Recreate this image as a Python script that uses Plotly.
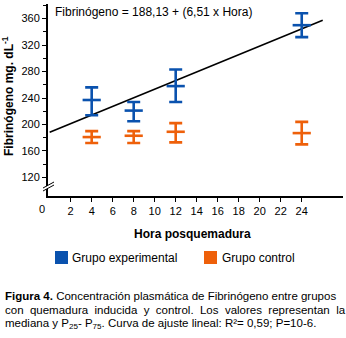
import plotly.graph_objects as go

hours = [4, 8, 12, 24]
exp_median = [237, 221, 258, 350]
exp_p25 = [214, 205, 234, 332]
exp_p75 = [256, 234, 283, 368]
ctl_median = [181, 183, 189, 187]
ctl_p25 = [172, 172, 173, 170]
ctl_p75 = [190, 190, 202, 204]
fit_intercept = 188.13
fit_slope = 6.51
fit_hours = [0, 26]
x_ticks = list(range(2, 26, 2))
y_ticks = [120, 160, 200, 240, 280, 320, 360]

BLUE = "#0A52AE"
ORANGE = "#EE600A"
FONT = "Liberation Sans, Arial, sans-serif"
NB = "\u00a0"

W, H = 346, 338
L, R, T, B = 48, 3, 4, 142
PW, PH = W - L - R, H - T - B


def px_x(px):
    return (px - L) / PW


def px_y(py):
    return (H - B - py) / PH


fig = go.Figure()

fig.add_trace(go.Scatter(
    x=fit_hours, y=[fit_intercept + fit_slope * h for h in fit_hours],
    mode="lines", line=dict(color="black", width=1.6), showlegend=False, hoverinfo="skip"))


def add_group(med, lo, hi, color):
    fig.add_trace(go.Scatter(
        x=hours, y=med, mode="markers",
        marker=dict(symbol="line-ew", size=13, line=dict(color=color, width=2.6)),
        error_y=dict(type="data", symmetric=False,
                     array=[h - m for h, m in zip(hi, med)],
                     arrayminus=[m - l for m, l in zip(med, lo)],
                     color=color, thickness=2.6, width=6.5),
        showlegend=False))


add_group(exp_median, exp_p25, exp_p75, BLUE)
add_group(ctl_median, ctl_p25, ctl_p75, ORANGE)

shapes = []
# axis break marks
shapes.append(dict(type="path", xref="paper", yref="paper",
                   path=f"M {px_x(43)} {px_y(191)} L {px_x(54)} {px_y(185)} L {px_x(54)} {px_y(182)} L {px_x(43)} {px_y(188)} Z",
                   fillcolor="white", line=dict(width=0), layer="above"))
for off in (0, 3):
    shapes.append(dict(type="line", xref="paper", yref="paper",
                       x0=px_x(43), y0=px_y(191 - off), x1=px_x(54), y1=px_y(185 - off),
                       line=dict(color="black", width=1), layer="above"))
# legend squares
shapes.append(dict(type="rect", xref="paper", yref="paper",
                   x0=px_x(55), x1=px_x(68), y0=px_y(264), y1=px_y(251),
                   fillcolor=BLUE, line=dict(width=0)))
shapes.append(dict(type="rect", xref="paper", yref="paper",
                   x0=px_x(204), x1=px_x(217), y0=px_y(264), y1=px_y(251),
                   fillcolor=ORANGE, line=dict(width=0)))


def text(t, px, py, size=12, xanchor="left", angle=0):
    return dict(text=t, xref="paper", yref="paper", x=px_x(px), y=px_y(py),
                xanchor=xanchor, yanchor="middle", showarrow=False, textangle=angle,
                font=dict(size=size, color="black", family=FONT))


ann = [
    text("Fibrinógeno = 188,13 + (6,51 x Hora)", 53, 12),
    text("Grupo experimental", 70, 257.5),
    text("Grupo control", 220, 257.5),
    text("0", 42, 209, size=11, xanchor="center"),
    text("<b>Hora posquemadura</b>", 192, 234, xanchor="center"),
    text("<b>Fibrinógeno mg. dL<sup>-1</sup></b>", 8, 96, xanchor="center", angle=-90),
]
caption = [
    "<b>Figura 4.</b> Concentración plasmática de Fibrinógeno entre grupos",
    ("con" + NB + " quemadura" + NB + " inducida" + NB + " y" + NB + " control." + NB + " Los"
     + NB + " valores" + NB + " representan" + NB + " la"),
    "mediana y P<sub>25</sub>- P<sub>75</sub>. Curva de ajuste lineal: R²= 0,59; P=10-6.",
]
for i, line in enumerate(caption):
    ann.append(text(line, 3, 295.5 + 14.3 * i, size=11.5))

fig.update_layout(
    width=W, height=H, margin=dict(l=L, r=R, t=T, b=B),
    paper_bgcolor="white", plot_bgcolor="white",
    font=dict(family=FONT, size=11, color="black"),
    shapes=shapes, annotations=ann, showlegend=False,
    xaxis=dict(range=[-0.16, 27.93], tickvals=x_ticks, ticks="outside", ticklen=4,
               tickwidth=1, tickcolor="black", showline=True, linecolor="black", linewidth=2,
               showgrid=False, zeroline=False, tickfont=dict(size=11), automargin=False),
    yaxis=dict(range=[92, 382], tickvals=y_ticks, ticks="outside", ticklen=4, tickwidth=1,
               tickcolor="black", showline=True, linecolor="black", linewidth=2,
               showgrid=False, zeroline=False, tickfont=dict(size=11), automargin=False,
               minor=dict(tickvals=[140, 180, 220, 260, 300, 340, 380], ticks="outside",
                          ticklen=3, tickcolor="black", tickwidth=1)),
)

fig.write_html("out.html", config={"displayModeBar": False, "staticPlot": True},
               post_script="document.body.style.margin='0';document.body.style.overflow='hidden';")
